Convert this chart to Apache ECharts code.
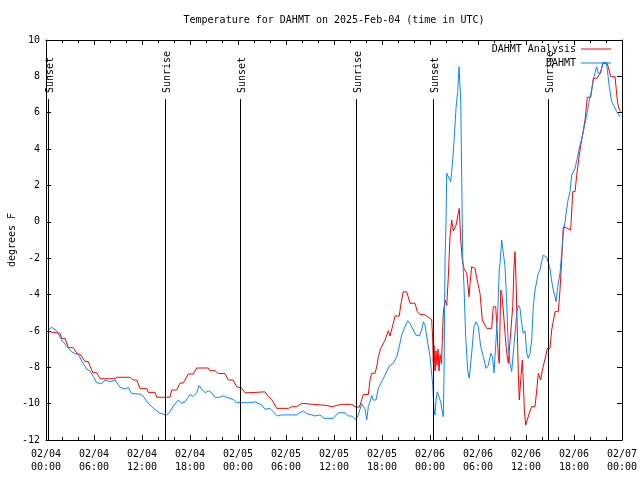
<!DOCTYPE html>
<html>
<head>
<meta charset="utf-8">
<script src="https://cdn.jsdelivr.net/npm/echarts@6/dist/echarts.min.js"></script>
<style>html,body{margin:0;padding:0;background:#fff}#c{width:640px;height:480px}</style>
</head>
<body>
<div id="c"></div>
<script>
// Hours since 2025-02-04 00:00 UTC
var anaHours = [0.29,1.75,1.96,2.38,2.79,3.41,3.91,4.25,4.88,5.29,5.84,6.34,6.75,8.63,8.9,10.5,10.9,11.34,11.75,12.59,12.79,13.63,13.84,15.5,15.71,16.34,16.75,17.16,17.79,18.41,18.84,20.29,20.5,21.13,21.54,22.38,22.79,23.38,23.84,24.46,24.88,25.5,25.71,27.38,27.79,28.21,28.84,30.29,30.71,31.34,31.96,33.41,35.09,35.71,36.34,36.96,38.21,38.63,39.16,39.46,39.66,40.29,40.5,40.71,41.13,41.34,41.54,41.84,42.38,42.79,43.0,43.25,43.41,43.63,44.16,44.34,44.66,45.09,45.5,46.13,46.41,46.75,47.38,47.79,48.21,48.34,48.41,48.5,48.63,48.75,48.88,49.0,49.13,49.25,49.44,49.56,49.66,49.88,50.09,50.29,50.5,50.71,50.91,51.25,51.54,51.66,51.84,52.04,52.25,52.59,52.88,53.0,53.21,53.63,53.84,54.25,54.54,55.09,55.71,55.91,56.21,56.34,56.54,56.66,56.84,56.96,57.16,57.38,57.59,57.79,58.0,58.34,58.5,58.63,58.75,58.91,59.04,59.16,59.34,59.54,59.66,59.79,59.96,60.16,60.41,60.71,61.13,61.34,61.54,61.84,62.04,62.29,62.5,62.66,63.0,63.21,63.63,64.04,64.25,64.46,64.59,64.66,65.13,65.59,65.84,66.13,66.34,66.66,66.96,67.38,67.66,68.09,68.41,68.84,69.25,69.66,70.16,70.59,71.13,71.41,71.59,71.84];
var anaTemps = [-6.04,-6.13,-6.41,-6.41,-6.92,-6.92,-7.27,-7.27,-7.69,-7.69,-8.30,-8.30,-8.63,-8.63,-8.55,-8.55,-8.7,-8.7,-9.16,-9.16,-9.38,-9.38,-9.65,-9.65,-9.25,-9.25,-8.87,-8.87,-8.37,-8.37,-8.04,-8.04,-8.19,-8.19,-8.34,-8.34,-8.7,-8.7,-9.07,-9.15,-9.4,-9.4,-9.35,-9.35,-9.62,-9.77,-10.26,-10.26,-10.17,-10.17,-9.98,-10.04,-10.1,-10.17,-10.1,-10.04,-10.04,-10.17,-10.2,-9.8,-9.5,-9.5,-8.7,-8.33,-8.33,-7.97,-7.42,-6.96,-6.5,-5.99,-6.28,-6.28,-5.58,-5.18,-5.18,-4.58,-3.85,-3.85,-4.48,-4.48,-4.94,-5.09,-5.12,-5.25,-5.37,-6.5,-7.7,-6.8,-8.2,-7.1,-7.9,-7.0,-8.2,-7.3,-7.8,-6.2,-5.03,-4.3,-4.6,-3.02,-0.82,0.1,-0.5,-0.2,0.47,0.74,-1.0,-2.1,-2.56,-2.83,-4.12,-3.4,-2.47,-2.56,-3.1,-3.93,-5.4,-5.86,-5.86,-4.67,-4.67,-5.58,-7.42,-7.78,-3.75,-3.9,-4.85,-6.13,-7.23,-7.78,-7.7,-4.67,-2.47,-1.64,-3.2,-5.95,-8.33,-9.8,-8.7,-7.6,-8.7,-10.35,-11.18,-11.1,-10.53,-10.17,-10.17,-9.25,-8.33,-8.7,-8.15,-8.15,-7.33,-6.96,-6.96,-5.95,-4.94,-4.94,-3.75,-2.1,-0.9,-0.27,-0.35,-0.45,1.66,1.66,2.57,3.68,4.5,5.6,6.85,6.85,7.89,7.89,8.17,8.72,8.72,7.98,7.98,6.7,6.24,6.06];

var obsHours = [0.29,0.71,1.34,1.96,2.59,3.21,3.63,4.04,4.66,5.09,5.5,5.91,6.34,6.96,7.38,8.0,8.63,9.25,9.88,10.29,10.71,11.75,12.16,12.79,13.41,14.25,15.09,15.5,15.91,16.54,16.96,17.38,18.0,18.41,18.84,19.13,19.46,19.88,20.29,20.71,21.13,21.75,22.16,22.59,22.79,23.41,23.84,25.5,26.13,26.34,26.96,27.38,28.0,28.41,28.91,29.46,31.34,31.75,32.16,32.59,33.21,33.63,34.25,34.75,35.91,36.54,37.38,37.79,38.21,38.71,39.04,39.46,39.66,39.88,40.09,40.29,40.5,40.71,40.91,41.25,41.54,41.96,42.38,42.91,43.41,43.84,44.16,44.46,44.88,45.21,45.5,45.84,46.25,46.66,46.96,47.16,47.38,47.66,48.0,48.34,48.5,48.63,48.75,48.91,49.13,49.34,49.5,49.66,49.75,49.88,50.0,50.09,50.29,50.59,50.84,51.04,51.25,51.46,51.63,51.75,51.84,51.96,52.09,52.25,52.46,52.71,52.91,53.21,53.5,53.75,54.04,54.34,54.66,55.0,55.29,55.59,55.81,56.0,56.25,56.46,56.66,56.75,56.96,57.16,57.38,57.59,57.79,58.0,58.21,58.41,58.84,59.04,59.25,59.46,59.66,59.88,60.09,60.29,60.5,60.71,60.91,61.13,61.54,61.75,61.96,62.16,62.59,62.79,63.0,63.19,63.41,63.63,63.75,63.96,64.25,64.46,64.66,64.88,65.21,65.5,65.71,65.91,66.13,66.41,66.75,67.09,67.38,67.66,68.0,68.21,68.5,68.84,69.04,69.34,69.59,70.0,70.16,70.41,70.71,71.04,71.34,71.75];
var obsTemps = [-5.95,-5.8,-6.0,-6.5,-6.85,-7.15,-7.25,-7.3,-7.8,-8.1,-8.2,-8.5,-8.85,-8.9,-8.7,-8.8,-8.7,-9.1,-9.2,-9.1,-9.45,-9.47,-9.6,-9.98,-10.25,-10.53,-10.62,-10.45,-10.13,-9.8,-9.98,-9.9,-9.5,-9.6,-9.4,-9.0,-9.2,-9.4,-9.3,-9.4,-9.65,-9.65,-9.57,-9.65,-9.57,-9.77,-9.95,-9.95,-9.9,-9.84,-10.07,-10.31,-10.26,-10.44,-10.68,-10.62,-10.62,-10.5,-10.4,-10.55,-10.62,-10.68,-10.62,-10.81,-10.81,-10.5,-10.5,-10.68,-10.68,-10.9,-10.62,-10.0,-9.9,-10.3,-10.9,-10.17,-9.9,-9.55,-9.8,-9.8,-9.16,-8.79,-8.43,-7.93,-7.78,-7.42,-6.87,-6.23,-5.77,-5.44,-5.58,-5.9,-6.23,-6.28,-5.95,-5.5,-5.68,-6.5,-7.4,-8.98,-10.35,-10.63,-9.8,-9.35,-9.35,-9.9,-10.35,-10.72,-8.52,-2.1,-0.08,2.67,2.6,2.2,3.4,4.68,6.24,7.16,8.53,8.5,6.7,2.48,-1.92,-3.57,-6.32,-8.15,-8.6,-7.23,-5.77,-5.5,-5.77,-6.87,-7.4,-8.06,-7.9,-7.23,-7.4,-8.3,-6.5,-5.03,-2.65,-2.28,-1.0,-0.9,-2.47,-4.48,-6.87,-7.78,-8.24,-7.23,-5.03,-4.58,-4.75,-5.58,-6.13,-6.0,-7.23,-7.5,-7.23,-6.5,-4.67,-3.75,-2.83,-2.65,-2.19,-1.83,-1.95,-2.0,-2.56,-3.2,-3.75,-4.12,-4.39,-3.6,-2.83,-1.73,-0.64,0.0,1.1,1.66,2.57,2.6,2.94,3.49,4.22,4.78,5.42,6.06,6.88,7.25,7.98,8.53,8.17,8.17,8.76,8.76,8.4,7.43,6.61,6.33,6.06,5.78];

var sunHours = [0.25, 14.88, 24.31, 38.75, 48.38, 62.75];
var sunLabels = ['Sunset', 'Sunrise', 'Sunset', 'Sunrise', 'Sunset', 'Sunrise'];

var titleText = 'Temperature for DAHMT on 2025-Feb-04 (time in UTC)';
var seriesNames = ['DAHMT Analysis', 'DAHMT'];

var FONT = 'DejaVu Sans Mono';
function pairs(xs, ys){ return xs.map(function(x,i){ return [x, ys[i]]; }); }
function fmtX(h){
  var day = 4 + Math.floor(h/24 + 1e-9);
  var hh = Math.round(h - (day-4)*24);
  return '02/0' + day + '\n' + (hh<10?'0':'') + hh + ':00';
}

var chart = echarts.init(document.getElementById('c'), null, {renderer:'canvas'});
var axisCommonX = {
  type:'value', min:0, max:72, interval:6,
  axisLine:{show:true, onZero:false, lineStyle:{color:'#000', width:1}},
  axisTick:{show:true, inside:true, length:5, lineStyle:{color:'#000'}},
  minorTick:{show:true, splitNumber:3, length:3, lineStyle:{color:'#000'}},
  splitLine:{show:false}
};
var axisCommonY = {
  type:'value', min:-12, max:10, interval:2,
  axisLine:{show:true, onZero:false, lineStyle:{color:'#000', width:1}},
  axisTick:{show:true, inside:true, length:5, lineStyle:{color:'#000'}},
  splitLine:{show:false}
};

chart.setOption({
  animation:false,
  backgroundColor:'#fff',
  grid:{left:46, right:18, top:40, bottom:40, containLabel:false, outerBoundsMode:'none'},
  graphic:[{type:'text', x:334, y:20, style:{text:titleText, font:'10px "' + FONT + '"', fill:'#000', align:'center', verticalAlign:'middle'}}],
  legend:{
    orient:'vertical', right:29, top:43, align:'right', padding:0,
    itemWidth:30, itemHeight:1, itemGap:2, icon:'rect',
    textStyle:{fontFamily:FONT, fontSize:10, color:'#000', lineHeight:12},
    data:seriesNames
  },
  xAxis:[
    Object.assign({}, axisCommonX, {position:'bottom',
      axisLabel:{show:true, margin:8, color:'#000', fontFamily:FONT, fontSize:10, lineHeight:13, formatter:fmtX}}),
    Object.assign({}, axisCommonX, {position:'top', axisLabel:{show:false}})
  ],
  yAxis:[
    Object.assign({}, axisCommonY, {position:'left',
      name:'degrees F', nameLocation:'middle', nameGap:29, nameRotate:90, nameMoveOverlap:false,
      nameTextStyle:{color:'#000', fontFamily:FONT, fontSize:10},
      axisLabel:{show:true, margin:6, color:'#000', fontFamily:FONT, fontSize:10}}),
    Object.assign({}, axisCommonY, {position:'right', axisLabel:{show:false}})
  ],
  series:[
    {name:seriesNames[0], type:'line', data:pairs(anaHours, anaTemps), showSymbol:false, symbol:'none',
     lineStyle:{color:'#ff0000', width:1}, itemStyle:{color:'#ff0000'}, z:3},
    {name:seriesNames[1], type:'line', data:pairs(obsHours, obsTemps), showSymbol:false, symbol:'none',
     lineStyle:{color:'#0a88ff', width:1}, itemStyle:{color:'#0a88ff'}, z:4},
    {name:'sun', type:'custom', data:sunHours.map(function(h){ return [h, -12]; }),
     encode:{x:0, y:1}, z:5, silent:true,
     renderItem:function(params, api){
       var h = api.value(0);
       var top = api.coord([h, 6.75]);
       var bot = api.coord([h, -12]);
       var x = Math.round(top[0]) + 0.5;
       return {type:'group', children:[
         {type:'line', shape:{x1:x, y1:top[1], x2:x, y2:bot[1]}, style:{stroke:'#000', lineWidth:1}},
         {type:'text', x:x+2, y:top[1]-6, rotation:Math.PI/2,
          style:{text:sunLabels[params.dataIndex], font:'10px "' + FONT + '"', fill:'#000', align:'left', verticalAlign:'middle'}}
       ]};
     }}
  ]
});
</script>
</body>
</html>
